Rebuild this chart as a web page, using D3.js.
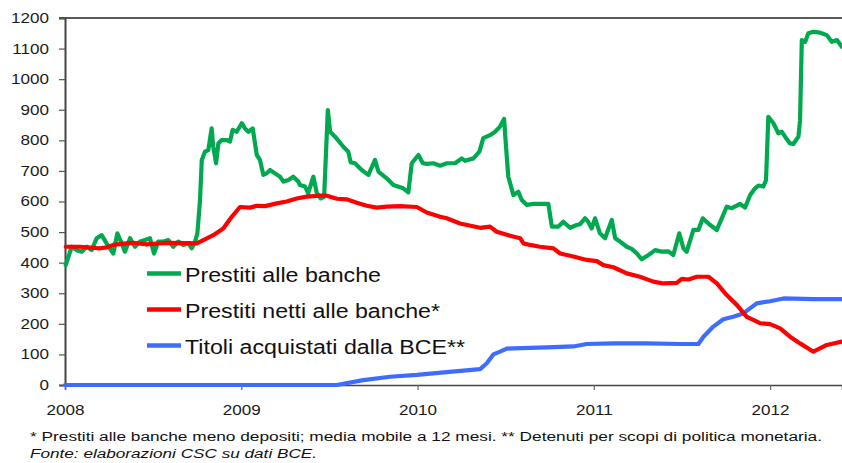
<!DOCTYPE html>
<html><head><meta charset="utf-8">
<script src="https://cdn.jsdelivr.net/npm/d3@7"></script>
<style>
html,body{margin:0;padding:0;background:#fff;}
svg{display:block;font-family:"Liberation Sans",Arial,sans-serif;}
</style></head>
<body><svg id="c" width="842" height="463"></svg>
<script>
// ---- data (decimal years, values) ----
const yTicks = [0,100,200,300,400,500,600,700,800,900,1000,1100,1200];
const xTickYears = [2008,2009,2010,2011,2012];
const seriesNames = ["Prestiti alle banche","Prestiti netti alle banche*","Titoli acquistati dalla BCE**"];

const greenT = [2008.004,2008.038,2008.066,2008.095,2008.123,2008.151,2008.180,2008.208,2008.236,2008.274,2008.297,2008.322,2008.340,2008.369,2008.397,2008.426,2008.454,2008.482,2008.505,2008.529,2008.558,2008.586,2008.614,2008.643,2008.671,2008.700,2008.719,2008.738,2008.751,2008.766,2008.776,2008.794,2008.813,2008.832,2008.841,2008.857,2008.870,2008.889,2008.917,2008.936,2008.951,2008.974,2009.003,2009.021,2009.040,2009.065,2009.088,2009.106,2009.125,2009.144,2009.163,2009.191,2009.220,2009.239,2009.267,2009.295,2009.324,2009.333,2009.362,2009.380,2009.409,2009.428,2009.451,2009.470,2009.491,2009.504,2009.532,2009.579,2009.607,2009.621,2009.645,2009.683,2009.721,2009.759,2009.778,2009.825,2009.863,2009.919,2009.948,2009.967,2010.005,2010.030,2010.054,2010.090,2010.128,2010.166,2010.213,2010.251,2010.270,2010.317,2010.351,2010.373,2010.411,2010.440,2010.468,2010.491,2010.502,2010.515,2010.544,2010.572,2010.591,2010.620,2010.657,2010.695,2010.742,2010.762,2010.799,2010.827,2010.865,2010.903,2010.922,2010.950,2010.967,2010.988,2011.007,2011.035,2011.064,2011.102,2011.121,2011.149,2011.187,2011.215,2011.244,2011.272,2011.310,2011.348,2011.385,2011.423,2011.451,2011.485,2011.508,2011.527,2011.565,2011.593,2011.618,2011.660,2011.698,2011.754,2011.783,2011.830,2011.858,2011.887,2011.915,2011.934,2011.962,2011.977,2011.990,2012.019,2012.047,2012.066,2012.085,2012.113,2012.132,2012.161,2012.170,2012.180,2012.199,2012.217,2012.246,2012.284,2012.322,2012.350,2012.379,2012.407];
const greenV = [392,452,441,436,452,441,480,490,463,430,496,463,436,480,452,469,474,480,430,469,469,474,452,469,458,463,447,469,496,605,736,763,768,839,779,725,790,801,801,796,834,828,856,839,828,839,752,736,687,692,703,692,681,665,670,681,665,654,649,627,681,629,610,615,899,828,812,779,763,728,725,703,687,736,698,676,654,643,630,725,752,725,723,725,717,725,725,741,733,741,763,807,817,828,845,870,779,681,621,632,605,589,592,592,592,518,518,534,514,523,526,545,535,512,545,496,480,540,480,469,452,445,430,411,425,441,436,437,425,496,447,436,507,507,545,523,507,583,578,592,580,621,643,652,649,670,877,856,823,828,812,790,788,812,866,1128,1122,1150,1155,1152,1144,1122,1128,1106];

const redT = [2008.004,2008.085,2008.199,2008.237,2008.274,2008.350,2008.388,2008.464,2008.577,2008.690,2008.747,2008.785,2008.841,2008.898,2008.946,2008.993,2009.050,2009.088,2009.135,2009.201,2009.258,2009.315,2009.371,2009.447,2009.485,2009.542,2009.598,2009.655,2009.712,2009.769,2009.825,2009.901,2009.996,2010.052,2010.128,2010.166,2010.241,2010.355,2010.411,2010.449,2010.525,2010.582,2010.601,2010.638,2010.695,2010.771,2010.809,2010.884,2010.960,2011.017,2011.054,2011.111,2011.187,2011.262,2011.338,2011.395,2011.471,2011.499,2011.537,2011.584,2011.650,2011.698,2011.754,2011.811,2011.868,2011.943,2012.000,2012.057,2012.113,2012.170,2012.246,2012.322,2012.408];
const redV = [452,452,447,450,458,463,465,460,465,464,463,474,490,512,550,582,580,586,585,594,600,610,616,619,619,609,607,596,586,580,583,585,582,564,550,545,528,514,518,501,488,480,463,458,452,447,430,420,409,405,392,385,365,354,338,332,334,347,345,354,354,332,294,262,223,202,199,185,158,136,109,131,142];

const blueT = [2008.000,2009.542,2009.692,2009.844,2009.996,2010.166,2010.355,2010.393,2010.430,2010.468,2010.506,2010.544,2010.733,2010.884,2010.960,2011.111,2011.300,2011.489,2011.593,2011.622,2011.678,2011.735,2011.791,2011.848,2011.924,2012.000,2012.076,2012.246,2012.408];
const blueV = [0,0,16,27,33,42,52,71,100,109,119,120,123,126,134,136,136,134,134,158,191,215,223,234,267,274,283,281,281];

const footnote1 = "* Prestiti alle banche meno depositi; media mobile a 12 mesi. ** Detenuti per scopi di politica monetaria.";
const footnote2 = "Fonte: elaborazioni CSC su dati BCE.";

// ---- drawing ----
const svg = d3.select("#c");
const x = d3.scaleLinear().domain([2008, 2012.408]).range([65, 842]);
const y = d3.scaleLinear().domain([0, 1200]).range([385, 18]);
const SX = 1.22; // horizontal stretch of the original typography

// top frame line
svg.append("line").attr("x1",59).attr("x2",842).attr("y1",y(1200)).attr("y2",y(1200))
  .attr("stroke","#222").attr("stroke-width",1.5);

// y axis
const yAx = svg.append("g").attr("transform","translate(65,0)")
  .call(d3.axisLeft(y).tickValues(yTicks).tickSize(6).tickPadding(0).tickFormat(d3.format("d")));
yAx.select(".domain").attr("stroke","#444").attr("stroke-width",2);
yAx.selectAll(".tick line").attr("stroke","#555").attr("stroke-width",1.2);
yAx.selectAll(".tick text").attr("font-size",14).attr("fill","#1a1a1a")
  .attr("font-family","Liberation Sans, Arial, sans-serif")
  .attr("x", -16/SX).attr("transform",`scale(${SX},1)`);

// x axis
const xAx = svg.append("g").attr("transform","translate(0,385)")
  .call(d3.axisBottom(x).tickValues(xTickYears).tickSize(5).tickPadding(0).tickFormat(d3.format("d")));
xAx.select(".domain").attr("stroke","#444").attr("stroke-width",1.5);
xAx.selectAll(".tick line").attr("stroke","#666").attr("stroke-width",1.2);
xAx.selectAll(".tick text").attr("font-size",14).attr("fill","#1a1a1a")
  .attr("font-family","Liberation Sans, Arial, sans-serif")
  .attr("y",30).attr("dy",0).attr("transform",`scale(${SX},1)`);

const line = d3.line().x(d => x(d[0])).y(d => y(d[1])).curve(d3.curveLinear);
const colors = ["#00a84f","#ff0000","#3d6cff"];
const series = [
  d3.zip(greenT, greenV),
  d3.zip(redT, redV),
  d3.zip(blueT, blueV)
];
// draw order: blue, green, red
[2,0,1].forEach(i => {
  svg.append("path").datum(series[i]).attr("d", line)
    .attr("fill","none").attr("stroke",colors[i]).attr("stroke-width",4.2)
    .attr("stroke-linejoin","round").attr("stroke-linecap","round");
});

// legend
const legY = [273.5, 309.5, 345.5];
const legLen = [196, 255, 280];
seriesNames.forEach((name,i) => {
  svg.append("line").attr("x1",147).attr("x2",181).attr("y1",legY[i]).attr("y2",legY[i])
    .attr("stroke",colors[i]).attr("stroke-width",4.5);
  svg.append("text").attr("x",185).attr("y",legY[i]+8.3).attr("font-size",19.5).attr("fill","#111")
    .attr("textLength",legLen[i]).attr("lengthAdjust","spacingAndGlyphs").text(name);
});

// footnotes
svg.append("text").attr("x",30).attr("y",441).attr("font-size",12).attr("fill","#111")
  .attr("textLength",792).attr("lengthAdjust","spacingAndGlyphs").text(footnote1);
svg.append("text").attr("x",30).attr("y",458).attr("font-size",12).attr("font-style","italic").attr("fill","#111")
  .attr("textLength",287).attr("lengthAdjust","spacingAndGlyphs").text(footnote2);
</script></body></html>
